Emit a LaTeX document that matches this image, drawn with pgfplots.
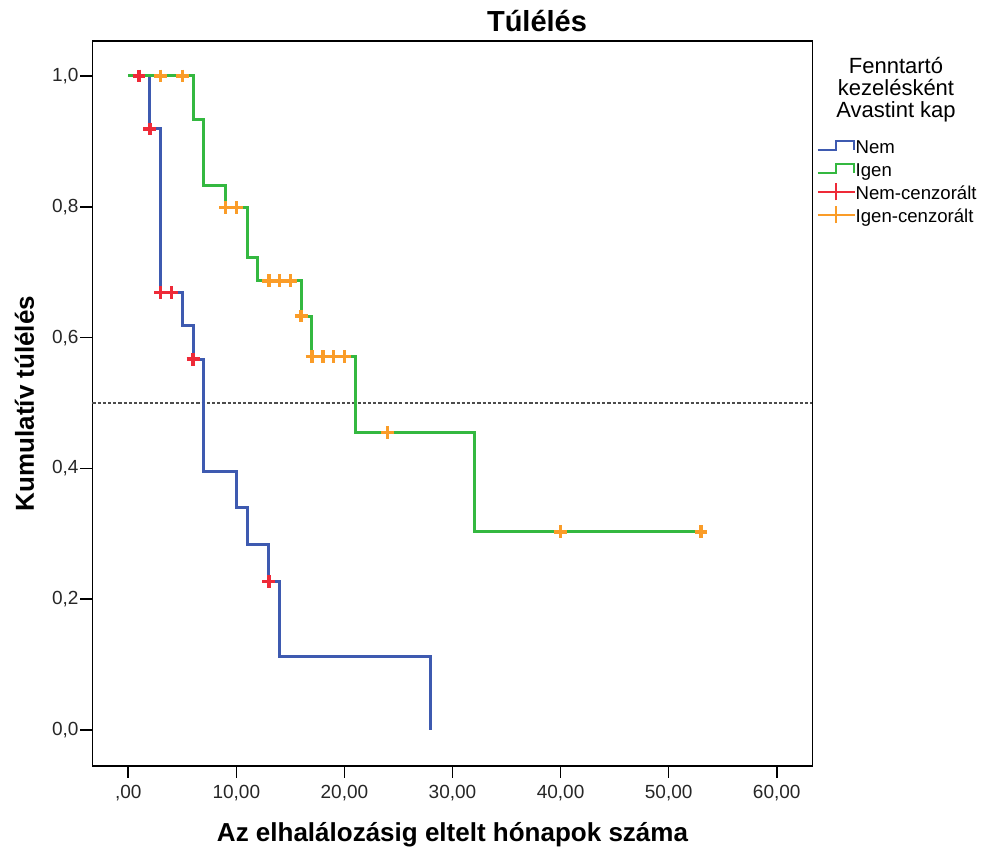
\documentclass[border=0pt]{standalone}
\usepackage{fontspec}
\setmainfont{Liberation Sans}
\usepackage{pgfplots}
\pgfplotsset{compat=1.18}

\definecolor{kmblue}{RGB}{62,90,176}
\definecolor{kmgreen}{RGB}{52,184,64}
\definecolor{kmred}{RGB}{238,42,56}
\definecolor{kmorange}{RGB}{250,156,40}
\newcommand\lstrut{\rule[-2.75pt]{0pt}{11.75pt}}

\begin{document}
\begin{tikzpicture}
\useasboundingbox (-46.25pt,-43pt) rectangle (444.75pt,383pt);
\begin{axis}[
    scale only axis,
    width=360pt, height=362.5pt,
    xmin=-3.31, xmax=63.31,
    ymin=-0.055, ymax=1.0535,
    clip=false,
    axis line style={black, line width=0.8pt},
    xtick={0,10,20,30,40,50,60},
    xticklabels={{,00},{10,00},{20,00},{30,00},{40,00},{50,00},{60,00}},
    ytick={0,0.2,0.4,0.6,0.8,1},
    yticklabels={{0,0},{0,2},{0,4},{0,6},{0,8},{1,0}},
    xtick pos=bottom, ytick pos=left,
    tick align=outside, major tick length=6pt,
    tick style={black, line width=0.8pt},
    tick label style={font=\fontsize{9.5}{11}\selectfont, text=black!85},
    yticklabel style={inner xsep=0.8pt},
    xlabel={Az elhalálozásig eltelt hónapok száma},
    ylabel={Kumulatív túlélés},
    title={Túlélés},
    every axis x label/.style={at={(rel axis cs:0.5,-0.1044)}, anchor=base,
        font=\fontsize{13}{15}\selectfont\bfseries},
    every axis y label/.style={at={(rel axis cs:-0.08125,0.5)}, rotate=90, anchor=base,
        font=\fontsize{13}{15}\selectfont\bfseries},
    every axis title/.style={at={(rel axis cs:0.6174,1.01283)}, anchor=base,
        font=\fontsize{14.5}{17}\selectfont\bfseries},
    legend style={at={(1.00556,0.8707)}, anchor=north west, draw=none, fill=none,
        inner sep=0pt, row sep=1pt, column sep=0pt,
        font=\fontsize{9.3}{11}\selectfont,
        nodes={inner sep=0pt}},
    legend cell align=left,
]

% 0.5 reference line
\addplot[forget plot, black!70, line width=0.85pt, dash pattern=on 1.6pt off 1pt]
    coordinates {(-3.31,0.5) (63.31,0.5)};

% Nem
\addplot[kmblue, line width=1.5pt, const plot,
    legend image code/.code={\draw[kmblue, line width=1.1pt]
        (0pt,-2.2pt) -- (9pt,-2.2pt) -- (9pt,2.2pt) -- (18pt,2.2pt) -- (18pt,-2.2pt);}]
    coordinates {(0,1) (2,0.919) (3,0.669) (5,0.618) (6,0.567) (7,0.396)
                 (10,0.340) (11,0.283) (13,0.227) (14,0.113) (28,0)};
\addlegendentry{\lstrut Nem}

% Igen
\addplot[kmgreen, line width=1.5pt, const plot,
    legend image code/.code={\draw[kmgreen, line width=1.1pt]
        (0pt,-2.2pt) -- (9pt,-2.2pt) -- (9pt,2.2pt) -- (18pt,2.2pt) -- (18pt,-2.2pt);}]
    coordinates {(0,1) (6,0.933) (7,0.832) (9,0.799) (11,0.723) (12,0.687)
                 (16,0.633) (17,0.571) (21,0.455) (32,0.303) (53,0.303)};
\addlegendentry{\lstrut Igen}

% Nem-cenzorált
\addplot[only marks, mark=+, mark size=3.2pt, kmred, line width=1.8pt,
    legend image code/.code={\draw[kmred, line width=1.1pt]
        (0pt,0pt) -- (18.3pt,0pt) (8.9pt,-4.4pt) -- (8.9pt,4.4pt);}]
    coordinates {(1,1) (2,0.919) (3,0.669) (4,0.669) (6,0.567) (13,0.227)};
\addlegendentry{\lstrut Nem-cenzorált}

% Igen-cenzorált
\addplot[only marks, mark=+, mark size=3.2pt, kmorange, line width=1.8pt,
    legend image code/.code={\draw[kmorange, line width=1.1pt]
        (0pt,0pt) -- (18.3pt,0pt) (8.9pt,-4.4pt) -- (8.9pt,4.4pt);}]
    coordinates {(3,1) (5,1) (9,0.799) (10,0.799) (13,0.687) (14,0.687) (15,0.687)
                 (16,0.633) (17,0.571) (18,0.571) (19,0.571) (20,0.571)
                 (24,0.455) (40,0.303) (53,0.303)};
\addlegendentry{\lstrut Igen-cenzorált}

% legend title
\node[anchor=base, font=\fontsize{11}{13}\selectfont] at (rel axis cs:1.116,0.9555) {Fenntartó};
\node[anchor=base, font=\fontsize{11}{13}\selectfont] at (rel axis cs:1.116,0.9251) {kezelésként};
\node[anchor=base, font=\fontsize{11}{13}\selectfont] at (rel axis cs:1.116,0.8945) {Avastint kap};
\end{axis}
\end{tikzpicture}
\end{document}
